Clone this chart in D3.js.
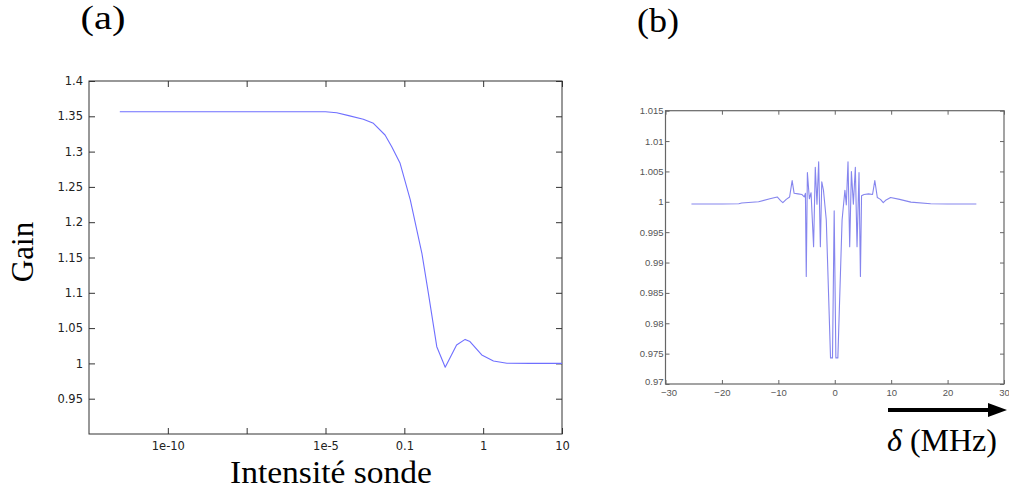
<!DOCTYPE html>
<html><head><meta charset="utf-8">
<script src="https://cdn.jsdelivr.net/npm/d3@7"></script>
<style>
html,body{margin:0;padding:0;background:#fff;}
svg{display:block;}
</style></head>
<body>
<svg id="c" width="1009" height="492"></svg>
<script>
// ---------- Panel (a) data ----------
const intensityA = [3e-12, 1e-9, 1e-7, 1e-5, 3.7e-5, 1.5e-4, 8.3e-4, 2.7e-3, 0.0105, 0.023, 0.061, 0.119, 0.167, 0.202, 0.258, 0.33, 0.46, 0.59, 0.68, 0.96, 1.35, 2.0, 4.0, 10];
const gainA      = [1.3565, 1.3565, 1.3565, 1.3565, 1.355, 1.351, 1.3457, 1.340, 1.3235, 1.307, 1.2834, 1.2315, 1.156, 1.0993, 1.0237, 0.9945, 1.026, 1.034, 1.031, 1.012, 1.0035, 1.0003, 1.0, 1.0];
const xBreaksA   = [Math.pow(10,-12.5), 1e-10, Math.pow(10,-7.5), 1e-5, 0.1, 1, 10];
const xTickValsA = [1e-10, Math.pow(10,-7.5), 1e-5, 0.1, 1, 10];
const xTickLabsA = ["1e-10", "", "1e-5", "0.1", "1", "10"];
const yTickValsA = [0.95, 1, 1.05, 1.1, 1.15, 1.2, 1.25, 1.3, 1.35, 1.4];

// ---------- Panel (b) data ----------
const deltaB = [-25.4,-20,-17,-16.5,-13.5,-11.5,-10.2,-9.6,-9.2,-8.6,-8.0,-7.55,-7.2,-6.5,-5.8,-5.4,-5.2,-5.05,-4.85,-4.5,-4.2,-3.75,-3.45,-3.15,-2.85,-2.55,-2.3,-2.0,-1.5,-0.75,-0.4,-0.1,0.2,0.55,1.3,1.8,2.05,2.35,2.65,2.95,3.3,3.65,3.95,4.3,4.55,4.75,5.2,6.0,6.7,7.1,7.55,8.1,8.6,9.1,9.9,11.5,13.5,17,20,25.1];
const gainB  = [0.99965,0.99965,0.99968,0.9998,1.0000,1.0005,1.0008,1.0002,0.99985,1.0004,1.0008,1.0035,1.0014,1.0013,1.0012,1.0008,1.0014,0.9877,1.0048,1.0005,1.0015,0.9926,1.0057,0.9996,1.0066,0.9926,1.0033,1.0019,0.9970,0.9743,0.9743,0.9985,0.9743,0.9743,0.9970,1.0019,0.9995,1.0066,0.9926,1.0050,0.9996,1.0057,0.9926,1.0048,0.9877,1.0010,1.0012,1.0013,1.0012,1.0035,1.0007,1.0004,0.99985,1.0003,1.0007,1.0004,0.99995,0.99968,0.99965,0.99965];
const xTickValsB = [-30,-20,-10,0,10,20,30];
const yTickValsB = [0.97,0.975,0.98,0.985,0.99,0.995,1,1.005,1.01,1.015];
const yTickLabsB = ["0.97","0.975","0.98","0.985","0.99","0.995","1","1.005","1.01","1.015"];

const svg = d3.select("#c");

// ================= Panel (a) =================
const A = {l: 89, r: 562, t: 81, b: 434};
const xA = d3.scaleLog().domain(xBreaksA)
  .range(xBreaksA.map((d,i) => A.l + i*(A.r-A.l)/(xBreaksA.length-1)));
const yA = d3.scaleLinear().domain([0.9, 1.4]).range([A.b, A.t]);
const gA = svg.append("g");
const fontA = "'DejaVu Sans', sans-serif";
const axCol = "#333";

gA.append("rect").attr("x", A.l).attr("y", A.t).attr("width", A.r-A.l).attr("height", A.b-A.t)
  .attr("fill", "none").attr("stroke", axCol).attr("stroke-width", 1);

function styleAxis(g, col, fs, font){
  g.select(".domain").remove();
  g.selectAll(".tick line").attr("stroke", col);
  g.selectAll(".tick text").attr("fill", "#222").style("font-family", font).style("font-size", fs);
}
const fmtA = (d) => xTickLabsA[xTickValsA.indexOf(d)];
gA.append("g").attr("transform", `translate(0,${A.b})`)
  .call(d3.axisBottom(xA).tickValues(xTickValsA).tickFormat(fmtA).tickSize(-6).tickPadding(8))
  .call(g => styleAxis(g, axCol, "11.5px", fontA));
gA.append("g").attr("transform", `translate(0,${A.t})`)
  .call(d3.axisTop(xA).tickValues(xTickValsA).tickFormat("").tickSize(-6))
  .call(g => styleAxis(g, axCol, "11.5px", fontA));
gA.append("g").attr("transform", `translate(${A.l},0)`)
  .call(d3.axisLeft(yA).tickValues(yTickValsA).tickFormat(d => String(d)).tickSize(-6).tickPadding(6))
  .call(g => styleAxis(g, axCol, "11.5px", fontA));
gA.append("g").attr("transform", `translate(${A.r},0)`)
  .call(d3.axisRight(yA).tickValues(yTickValsA).tickFormat("").tickSize(-6))
  .call(g => styleAxis(g, axCol, "11.5px", fontA));

const lineA = d3.line().x((d,i) => xA(intensityA[i])).y((d,i) => yA(gainA[i]));
gA.append("path").datum(gainA).attr("d", lineA)
  .attr("fill", "none").attr("stroke", "#6f6fff").attr("stroke-width", 1.1).attr("stroke-linejoin", "round");

const serif = "'Liberation Serif', 'Times New Roman', serif";
svg.append("text").attr("x", 331).attr("y", 483).attr("text-anchor", "middle")
  .attr("textLength", 202).attr("lengthAdjust", "spacingAndGlyphs")
  .style("font-family", serif).style("font-size", "31px").text("Intensité sonde");
svg.append("text").attr("transform", "translate(33,252) rotate(-90)").attr("text-anchor", "middle")
  .style("font-family", serif).style("font-size", "31px").text("Gain");
svg.append("text").attr("x", 103).attr("y", 29).attr("text-anchor", "middle")
  .attr("textLength", 45).attr("lengthAdjust", "spacingAndGlyphs")
  .style("font-family", serif).style("font-size", "33px").text("(a)");
svg.append("text").attr("x", 658).attr("y", 32).attr("text-anchor", "middle")
  .attr("textLength", 42).attr("lengthAdjust", "spacingAndGlyphs")
  .style("font-family", serif).style("font-size", "33px").text("(b)");

// ================= Panel (b) =================
const B = {l: 665.5, r: 1004, t: 110.7, b: 384};
const xB = d3.scaleLinear().domain([-30, 30]).range([B.l, B.r]);
const yB = d3.scaleLinear().domain([0.97, 1.015]).range([B.b, B.t]);
const gB = svg.append("g");
const fontB = "'Liberation Sans', Arial, sans-serif";
const axColB = "#666";

gB.append("rect").attr("x", B.l).attr("y", B.t).attr("width", B.r-B.l).attr("height", B.b-B.t)
  .attr("fill", "none").attr("stroke", axColB).attr("stroke-width", 1.2);
function styleB(g){
  g.select(".domain").remove();
  g.selectAll(".tick line").attr("stroke", axColB);
  g.selectAll(".tick text").attr("fill", "#555").style("font-family", fontB).style("font-size", "9.5px");
}
gB.append("g").attr("transform", `translate(0,${B.b})`)
  .call(d3.axisBottom(xB).tickValues(xTickValsB).tickSize(-4).tickPadding(5)).call(styleB)
  .call(g => g.selectAll(".tick text").filter(d => d === -30).attr("dx", "3"));
gB.append("g").attr("transform", `translate(0,${B.t})`)
  .call(d3.axisTop(xB).tickValues(xTickValsB).tickFormat("").tickSize(-4)).call(styleB);
gB.append("g").attr("transform", `translate(${B.l},0)`)
  .call(d3.axisLeft(yB).tickValues(yTickValsB).tickFormat((d,i) => yTickLabsB[i]).tickSize(-4).tickPadding(2)).call(styleB)
  .call(g => g.selectAll(".tick text").filter(d => d === 0.97).attr("y", -3));
gB.append("g").attr("transform", `translate(${B.r},0)`)
  .call(d3.axisRight(yB).tickValues(yTickValsB).tickFormat("").tickSize(-4)).call(styleB);

const lineB = d3.line().x((d,i) => xB(deltaB[i])).y((d,i) => yB(gainB[i]));
gB.append("path").datum(gainB).attr("d", lineB)
  .attr("fill", "none").attr("stroke", "#8585ee").attr("stroke-width", 1.1).attr("stroke-linejoin", "round");

// arrow and delta label
svg.append("line").attr("x1", 888).attr("y1", 410).attr("x2", 992).attr("y2", 410)
  .attr("stroke", "#000").attr("stroke-width", 4);
svg.append("path").attr("d", "M988,403 L1007,410 L988,417 Z").attr("fill", "#000");
const dl = svg.append("text").attr("x", 887).attr("y", 451)
  .style("font-family", serif).style("font-size", "32px");
dl.append("tspan").style("font-style", "italic").text("δ");
dl.append("tspan").text(" (MHz)");
</script>
</body></html>
